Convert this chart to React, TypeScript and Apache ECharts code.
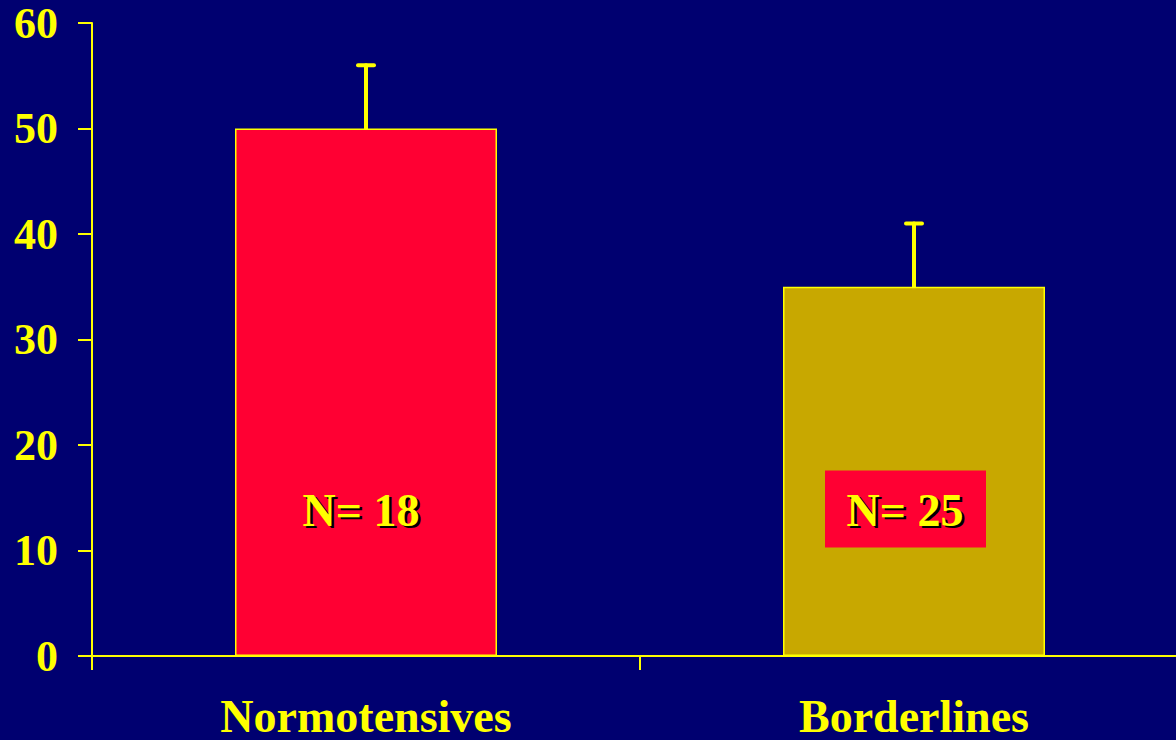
import React, { useEffect, useRef } from "react";
import * as echarts from "echarts";

const categories = ["Normotensives", "Borderlines"];
const values = [50, 35];
const errorTops = [56, 41];
const nLabels = ["N= 18", "N= 25"];
const labelLevel = [13.8, 13.8];
const barColors = ["#FF0033", "#C8A800"];
const yTicks = { min: 0, max: 60, interval: 10 };

export default function App() {
  const ref = useRef<HTMLDivElement>(null);
  useEffect(() => {
    const chart = echarts.init(ref.current!, null, { renderer: "svg" });
    const font = "'Liberation Serif', 'Times New Roman', serif";
    chart.setOption({
      animation: false,
      backgroundColor: "#000070",
      grid: { left: 92, top: 23, bottom: 84, right: 0, containLabel: false },
      xAxis: {
        type: "category",
        data: categories,
        axisLine: { lineStyle: { color: "#FFFF00", width: 2 } },
        axisTick: { show: true, length: 14, lineStyle: { color: "#FFFF00", width: 2 } },
        axisLabel: {
          color: "#FFFF00",
          fontFamily: font,
          fontWeight: "bold",
          fontSize: 46,
          margin: 37,
        },
      },
      yAxis: {
        type: "value",
        min: yTicks.min,
        max: yTicks.max,
        interval: yTicks.interval,
        splitLine: { show: false },
        axisLine: { show: true, lineStyle: { color: "#FFFF00", width: 2 } },
        axisTick: { show: true, length: 14, lineStyle: { color: "#FFFF00", width: 2 } },
        axisLabel: {
          color: "#FFFF00",
          fontFamily: font,
          fontWeight: "bold",
          fontSize: 44,
          margin: 34,
        },
      },
      series: [
        {
          type: "bar",
          data: values.map((v, i) => ({
            value: v,
            itemStyle: { color: barColors[i], borderColor: "#FFFF00", borderWidth: 1.5 },
          })),
          barWidth: 262,
          z: 2,
        },
        {
          type: "custom",
          data: values.map((v, i) => [i, v, errorTops[i]]),
          z: 1,
          renderItem: (params: any, api: any) => {
            const i = api.value(0);
            const base = api.coord([i, api.value(1)]);
            const top = api.coord([i, api.value(2)]);
            const style = { stroke: "#FFFF00", lineWidth: 4, lineCap: "round" };
            return {
              type: "group",
              children: [
                { type: "line", shape: { x1: base[0], y1: base[1], x2: top[0], y2: top[1] }, style },
                { type: "line", shape: { x1: top[0] - 8, y1: top[1], x2: top[0] + 8, y2: top[1] }, style },
              ],
            };
          },
        },
        {
          type: "custom",
          data: nLabels.map((t, i) => [i, labelLevel[i]]),
          z: 5,
          renderItem: (params: any, api: any) => {
            const i = api.value(0);
            const p = api.coord([i, api.value(1)]);
            const withBox = i === 1;
            const tx = p[0] + (withBox ? -9 : -5);
            const txtStyle = (fill: string) => ({
              text: nLabels[i],
              fill,
              font: `bold 46px ${font}`,
              align: "center",
              verticalAlign: "middle",
            });
            return {
              type: "group",
              children: [
                ...(withBox
                  ? [{ type: "rect", shape: { x: p[0] - 89, y: p[1] - 40, width: 161, height: 77 }, style: { fill: "#FF0033" } }]
                  : []),
                { type: "text", x: tx + 2.5, y: p[1] + 2.5, style: txtStyle("#000000") },
                { type: "text", x: tx, y: p[1], style: txtStyle("#FFFF00") },
              ],
            };
          },
        },
      ],
    });
    return () => chart.dispose();
  }, []);
  return <div ref={ref} style={{ width: 1188, height: 740, position: "fixed", left: 0, top: 0 }} />;
}
